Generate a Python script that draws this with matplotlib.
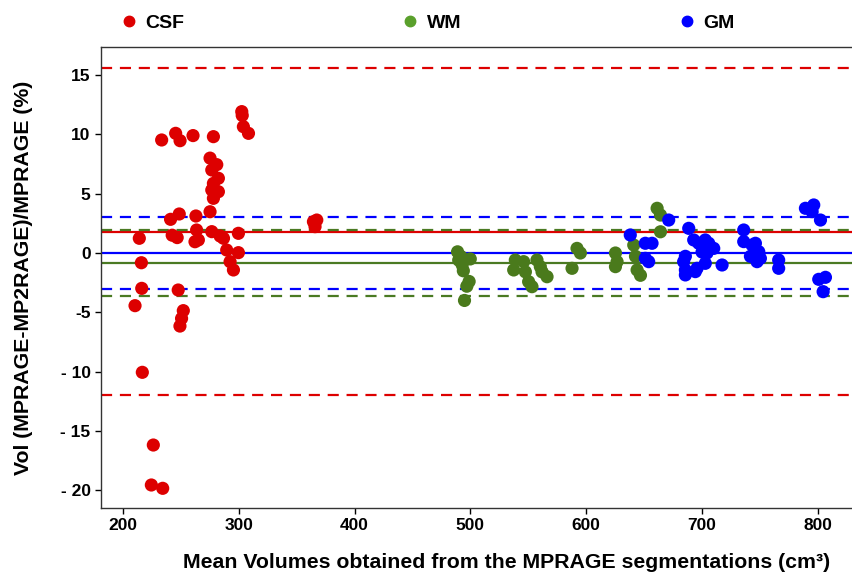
import matplotlib
matplotlib.use('Agg')
import matplotlib.pyplot as plt
from matplotlib.lines import Line2D

plt.rcParams['font.family'] = ['Liberation Sans', 'DejaVu Sans']
plt.rcParams['font.weight'] = 'bold'

# --- data ---
csf_x = [214.1, 215.9, 216.2, 210.4, 216.7, 226.2, 224.5, 234.3, 233.4, 245.5,
         249.3, 260.5, 241.1, 248.6, 242.5, 246.8, 247.7, 252.1, 250.6, 249.2,
         263.0, 263.6, 262.2, 265.1, 278.1, 275.2, 281.0, 276.7, 282.4, 278.1,
         276.7, 282.4, 278.1, 275.2, 276.7, 283.9, 286.8, 299.7, 289.6, 299.7,
         292.5, 295.4, 302.6, 303.0, 304.0, 308.4, 364.5, 367.4, 365.9]
csf_y = [1.24, -0.82, -2.98, -4.44, -10.06, -16.19, -19.56, -19.84, 9.53, 10.09,
         9.47, 9.9, 2.84, 3.29, 1.5, 1.3, -3.12, -4.86, -5.52, -6.16,
         3.12, 1.94, 0.95, 1.1, 9.81, 8.0, 7.45, 7.0, 6.3, 5.87,
         5.31, 5.17, 4.61, 3.48, 1.8, 1.43, 1.24, 1.66, 0.25, 0.03,
         -0.73, -1.43, 11.92, 11.6, 10.65, 10.09, 2.64, 2.78, 2.22]

wm_x = [489, 490, 492, 493, 494, 495, 497, 499, 500,
        538.9, 537.5, 546.1, 547.6, 550.4, 553.3, 557.6, 560.5, 562.0, 566.3,
        592.2, 595.1, 587.9, 625.4, 626.8, 625.4,
        641.2, 642.7, 644.1, 647.0, 661.4, 664.3, 664.3]
wm_y = [0.1, -0.6, -0.3, -1.0, -1.5, -4.0, -2.8, -2.4, -0.5,
        -0.59, -1.43, -0.73, -1.59, -2.42, -2.84, -0.59, -1.15, -1.59, -2.0,
        0.39, 0.0, -1.29, 0.0, -0.73, -1.15,
        0.67, -0.28, -1.43, -1.88, 3.77, 3.2, 1.79]

gm_x = [638.2, 651.2, 657.0, 651.2, 654.1, 671.4, 688.7, 693.0, 697.3, 703.0,
        706.0, 710.3, 700.2, 704.5, 685.8, 684.3, 685.8, 694.4, 695.9, 703.0,
        717.5, 685.8, 736.2, 736.2, 743.4, 746.3, 749.2, 742.0, 747.7, 750.6,
        766.4, 766.4, 789.5, 796.7, 795.3, 802.5, 801.0, 806.8, 804.8]
gm_y = [1.52, 0.82, 0.82, -0.45, -0.73, 2.78, 2.08, 1.1, 0.82, 1.1,
        0.82, 0.39, 0.08, 0.0, -0.28, -0.73, -1.43, -1.57, -1.29, -0.87,
        -1.01, -1.85, 1.94, 0.96, 0.67, 0.82, 0.11, -0.28, -0.73, -0.45,
        -0.59, -1.29, 3.77, 4.05, 3.48, 2.78, -2.22, -2.05, -3.26]

# mean and limits of agreement
csf_lines = [1.8, 15.6, -12.0]
wm_lines = [-0.82, 1.96, -3.62]
gm_lines = [0.0, 3.03, -3.05]

yticks = [-20, -15, -10, -5, 0, 5, 10, 15]
ytick_labels = ['- 20', '- 15', '- 10', '-5', '0', '5', '10', '15']
xticks = [200, 300, 400, 500, 600, 700, 800]

RED = '#dd0000'
GREEN_PT = '#4a7a1c'
GREEN_LN = '#4a7a23'
BLUE = '#0000ff'

fig = plt.figure(figsize=(8.53, 5.78), dpi=100)
# plot box runs past the right edge of the picture (cropped original)
ax = fig.add_axes([0.1184, 0.1211, 0.95, 0.7976])

for vals, col in [(csf_lines, RED), (wm_lines, GREEN_LN), (gm_lines, BLUE)]:
    ax.axhline(vals[0], color=col, lw=1.6, zorder=1)
    ax.axhline(vals[1], color=col, lw=1.6, ls=(0, (5, 3.5)), zorder=1)
    ax.axhline(vals[2], color=col, lw=1.6, ls=(0, (5, 3.5)), zorder=1)

ax.scatter(csf_x, csf_y, s=90, color=RED, edgecolors='none', zorder=3)
ax.scatter(wm_x, wm_y, s=90, color=GREEN_PT, edgecolors='none', zorder=3)
ax.scatter(gm_x, gm_y, s=90, color=BLUE, edgecolors='none', zorder=3)

ax.set_xlim(181, 881)
ax.set_ylim(-21.5, 17.37)
ax.set_yticks(yticks)
ax.set_yticklabels(ytick_labels)
ax.set_xticks(xticks)
ax.tick_params(labelsize=12.5, length=4, width=1, direction='out')
for sp in ax.spines.values():
    sp.set_color('#333333')
    sp.set_linewidth(1.0)

ax.set_xlabel('Mean Volumes obtained from the MPRAGE segmentations (cm³)',
              fontsize=15.3, fontweight='bold', labelpad=14)
ax.set_ylabel('Vol (MPRAGE-MP2RAGE)/MPRAGE (%)', fontsize=15.3, fontweight='bold')
ax.yaxis.set_label_coords(-0.084, 0.5)

handles = [Line2D([], [], ls='none', marker='o', ms=7.5, color=RED),
           Line2D([], [], ls='none', marker='o', ms=7.5, color='#5aa02c'),
           Line2D([], [], ls='none', marker='o', ms=7.5, color=BLUE)]
fig.legend(handles, ['CSF', 'WM', 'GM'], ncol=3, loc='center left',
           bbox_to_anchor=(0.142, 0.96), frameon=False, fontsize=14,
           handlelength=0.8, handletextpad=0.45, columnspacing=11.2,
           borderaxespad=0, borderpad=0)

fig.savefig('out.png', dpi=100)
